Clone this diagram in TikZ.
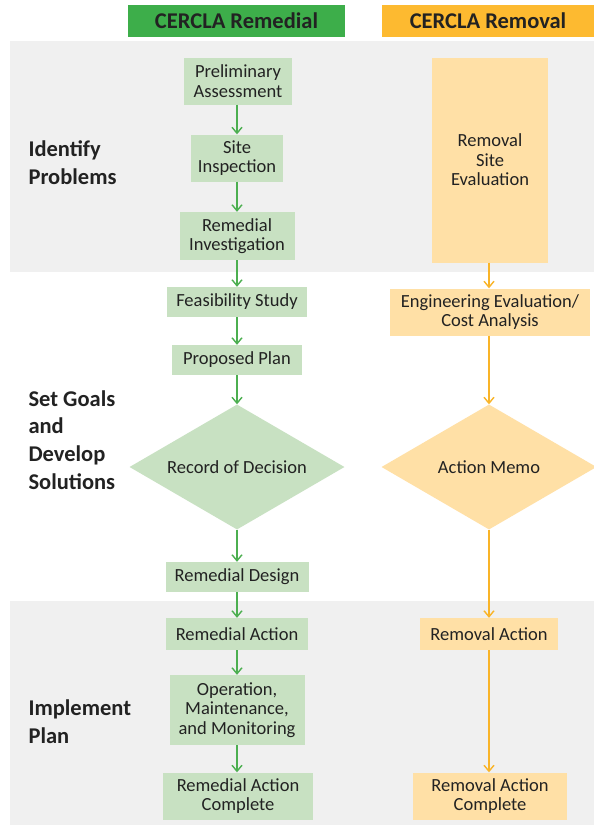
\documentclass[tikz,border=0pt]{standalone}
\usepackage{fontspec}
\setmainfont{Carlito}
\usetikzlibrary{arrows.meta,shapes.geometric}
\definecolor{hdgreen}{RGB}{61,174,74}
\definecolor{hdorange}{RGB}{253,186,48}
\definecolor{boxgreen}{RGB}{200,225,194}
\definecolor{boxorange}{RGB}{255,224,166}
\definecolor{argreen}{RGB}{76,175,80}
\definecolor{arorange}{RGB}{249,180,40}
\definecolor{band}{RGB}{240,240,240}
\definecolor{ink}{RGB}{34,34,34}
\tikzset{
  gbox/.style={fill=boxgreen,text=ink,align=center,inner sep=0pt,font=\fontsize{18.5}{19.5}\selectfont},
  obox/.style={gbox,fill=boxorange},
  gdia/.style={gbox,diamond,aspect=1.72,minimum width=215pt,minimum height=125pt},
  odia/.style={gdia,fill=boxorange},
  phase/.style={anchor=west,align=left,text=ink,font=\fontsize{22.5}{27.7}\selectfont\bfseries},
  header/.style={text=ink,minimum height=32pt,font=\fontsize{22.5}{24}\selectfont\bfseries},
  garrow/.style={-{Straight Barb[length=6pt,width=10pt]},argreen,line width=1.4pt},
  oarrow/.style={garrow,arorange}
}
\begin{document}
\begin{tikzpicture}[x=1pt,y=-1pt]
  \useasboundingbox (0,0) rectangle (594,825);
  \fill[white] (0,0) rectangle (594,825);
  % phase bands
  \fill[band] (10,41) rectangle (594,272);
  \fill[band] (10,601) rectangle (594,825);
  % column headers
  \node[header,fill=hdgreen,minimum width=217pt] (hrem) at (236.5,21) {CERCLA Remedial};
  \node[header,fill=hdorange,minimum width=212pt] (hrmv) at (488,21) {CERCLA Removal};
  % phase labels
  \node[phase] (lid) at (25,163) {Identify\\Problems};
  \node[phase] (lsg) at (25,440) {Set Goals\\and\\Develop\\Solutions};
  \node[phase] (lim) at (25,722) {Implement\\Plan};

  % remedial column
  \node[gbox,minimum width=108pt,minimum height=47pt] (pa) at (238,81) {Preliminary\\Assessment};
  \node[gbox,minimum width=92pt,minimum height=47pt] (si) at (237,158) {Site\\Inspection};
  \node[gbox,minimum width=115pt,minimum height=48pt] (ri) at (237,236) {Remedial\\Investigation};
  \node[gbox,minimum width=140pt,minimum height=30pt] (fs) at (237,302) {Feasibility Study};
  \node[gbox,minimum width=130pt,minimum height=30pt] (pp) at (237,360) {Proposed Plan};
  \node[gdia] (rod) at (237,467) {Record of Decision};
  \node[gbox,minimum width=143pt,minimum height=30pt] (rd) at (237,577) {Remedial Design};
  \node[gbox,minimum width=142pt,minimum height=32pt] (ra) at (237,634) {Remedial Action};
  \node[gbox,minimum width=135pt,minimum height=70pt] (omm) at (237,710) {Operation,\\Maintenance,\\and Monitoring};
  \node[gbox,minimum width=150pt,minimum height=47pt] (rac) at (238,796) {Remedial Action\\Complete};

  % removal column
  \node[obox,minimum width=116pt,minimum height=205pt] (rse) at (490,160) {Removal\\Site\\Evaluation};
  \node[obox,minimum width=200pt,minimum height=47pt] (eeca) at (490,312) {Engineering Evaluation/\\Cost Analysis};
  \node[odia] (am) at (489,467) {Action Memo};
  \node[obox,minimum width=138pt,minimum height=32pt] (rma) at (489,634) {Removal Action};
  \node[obox,minimum width=154pt,minimum height=47pt] (rmac) at (490,796) {Removal Action\\Complete};

  % connectors
  \draw[garrow] (pa.south -| si) -- (si.north);
  \draw[garrow] (si) -- (ri);
  \draw[garrow] (ri) -- (fs);
  \draw[garrow] (fs) -- (pp);
  \draw[garrow] (pp) -- (rod);
  \draw[garrow] (rod) -- (rd);
  \draw[garrow] (rd) -- (ra);
  \draw[garrow] (ra) -- (omm);
  \draw[garrow] (omm) -- (rac.north -| omm);

  \draw[oarrow] (rse.south -| am) -- (eeca.north -| am);
  \draw[oarrow] (eeca.south -| am) -- (am.north);
  \draw[oarrow] (am) -- (rma);
  \draw[oarrow] (rma) -- (rmac.north -| rma);
\end{tikzpicture}
\end{document}
